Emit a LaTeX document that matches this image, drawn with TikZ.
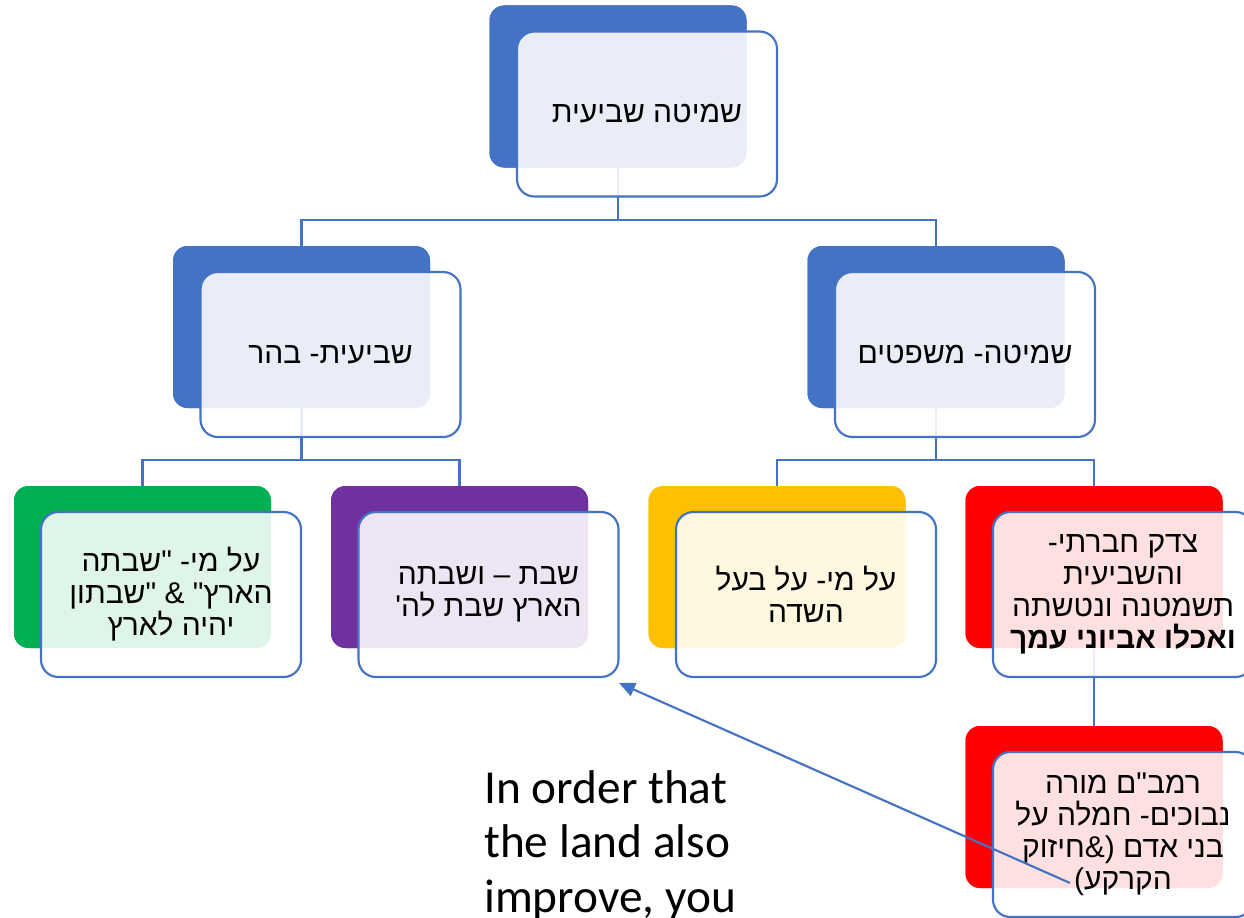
\documentclass[tikz,border=0pt]{standalone}
\usepackage{fontspec}
\TeXXeTstate=1
\newfontfamily\heb[Script=Hebrew]{Liberation Sans}
\newfontfamily\eng{Carlito}
\usetikzlibrary{arrows.meta}
\definecolor{sblue}{HTML}{4472C4}
\definecolor{sgreen}{HTML}{00B050}
\definecolor{spurple}{HTML}{7030A0}
\definecolor{syellow}{HTML}{FFC000}
\definecolor{sred}{HTML}{FF0000}
\tikzset{
  backbox/.style={rectangle, rounded corners=11pt, minimum width=192.75pt, minimum height=121.5pt, fill=#1, draw=none, inner sep=0pt},
  frontbox/.style={rectangle, rounded corners=13pt, minimum width=195pt, minimum height=123.75pt, fill=white, fill opacity=0.88, text opacity=1, draw=sblue, draw opacity=1, line width=1.6pt, align=center, font=\heb\fontsize{22.5}{24}\selectfont, inner sep=2pt},
  conn/.style={draw=sblue, line width=1.7pt},
  pointer/.style={draw=sblue, line width=1.6pt, -{Triangle[length=12pt,width=10.5pt]}}
}
\begin{document}
\begin{tikzpicture}[x=0.75pt,y=-0.75pt]
\useasboundingbox (0,0) rectangle (1244,917);
\clip (0,0) rectangle (1244,917);
% back boxes
\node[backbox=sblue] (b0) at (618,86.5) {};
\node[backbox=sblue] (b1) at (301.5,327) {};
\node[backbox=sblue] (b2) at (936,327) {};
\node[backbox=sgreen] (b3) at (142.5,567) {};
\node[backbox=spurple] (b4) at (459.5,567) {};
\node[backbox=syellow] (b5) at (777,567) {};
\node[backbox=sred] (b6) at (1094,567) {};
\node[backbox=sred] (b7) at (1094,807) {};
% connectors
\draw[conn] (b0.center) -- (b0.center |- 0,220) -| (b1.north);
\draw[conn] (b0.center |- 0,220) -| (b2.north);
\draw[conn] (b1.center) -- (b1.center |- 0,460) -| (b3.north);
\draw[conn] (b1.center |- 0,460) -| (b4.north);
\draw[conn] (b2.center) -- (b2.center |- 0,460) -| (b5.north);
\draw[conn] (b2.center |- 0,460) -| (b6.north);
\draw[conn] (b6.center) -- (b7.north);
% back boxes again, over the connectors
\node[backbox=sblue] at (b0) {};
\node[backbox=sblue] at (b1) {};
\node[backbox=sblue] at (b2) {};
\node[backbox=sgreen] at (b3) {};
\node[backbox=spurple] at (b4) {};
\node[backbox=syellow] at (b5) {};
\node[backbox=sred] at (b6) {};
\node[backbox=sred] at (b7) {};
% front boxes
\node[frontbox] (f0) at (647,114) {\beginR שמיטה שביעית\endR};
\node[frontbox] (f1) at (330.5,354.5) {\beginR שביעית- בהר\endR};
\node[frontbox] (f2) at (965,354.5) {\beginR שמיטה- משפטים\endR};
\node[frontbox] (f3) at (171,594.5) {\beginR על מי- "שבתה\endR\\\beginR הארץ" \& "שבתון\endR\\\beginR יהיה לארץ\endR};
\node[frontbox] (f4) at (488.5,594.5) {\beginR שבת – ושבתה\endR\\\beginR הארץ שבת לה'\endR};
\node[frontbox] (f5) at (806,594.5) {\beginR על מי- על בעל\endR\\\beginR השדה\endR};
\node[frontbox] (f6) at (1123,594.5) {\beginR צדק חברתי-\endR\\\beginR והשביעית\endR\\\beginR תשמטנה ונטשתה\endR\\{\bfseries\beginR ואכלו אביוני עמך\endR}};
\node[frontbox] (f7) at (1123,834.5) {\beginR רמב"ם מורה\endR\\\beginR נבוכים- חמלה על\endR\\\beginR בני אדם (\&חיזוק\endR\\\beginR הקרקע)\endR};
% english text
\node[anchor=north west, inner sep=0pt, align=left, font=\eng\fontsize{35.5}{41}\selectfont] (en) at (484,770) {In order that\\the land also\\improve, you};
% arrow
\coordinate (arrs) at (1070,883);
\coordinate (arre) at (619,683);
\draw[pointer] (arrs) -- (arre);
\end{tikzpicture}
\end{document}
